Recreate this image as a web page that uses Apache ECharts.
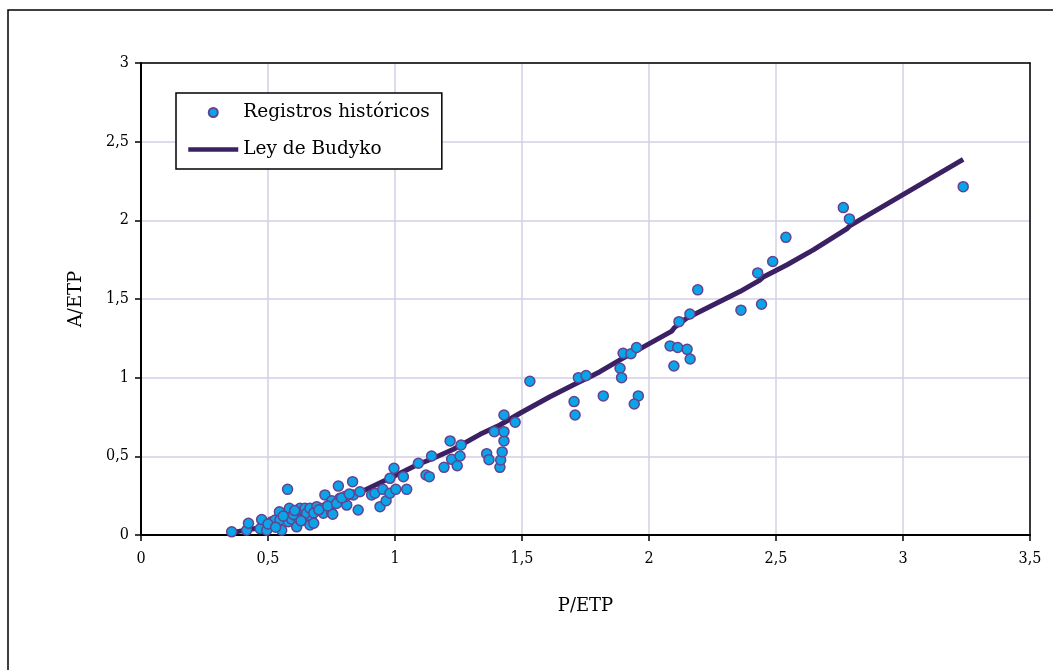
<!DOCTYPE html>
<html>
<head>
<meta charset="utf-8">
<script src="https://cdn.jsdelivr.net/npm/echarts@6/dist/echarts.min.js"></script>
<style>
  html, body { margin: 0; padding: 0; background: #fff; }
  #chart { width: 1053px; height: 670px; }
</style>
</head>
<body>
<div id="chart"></div>
<script>
// registros historicos (P/ETP , A/ETP)
const histP = [0.357, 0.416, 0.423, 0.469, 0.475, 0.495, 0.515, 0.528, 0.545, 0.547, 0.554, 0.577, 0.584, 0.58, 0.593,
  0.613, 0.613, 0.626, 0.639, 0.646, 0.652, 0.665, 0.672, 0.665, 0.692, 0.718, 0.724, 0.718, 0.751, 0.755,
  0.751, 0.777, 0.783, 0.81, 0.803, 0.833, 0.836, 0.855, 0.862, 0.6, 0.5, 0.53, 0.56, 0.605, 0.68,
  0.7, 0.735, 0.77, 0.79, 0.82, 0.68, 0.63,
  0.908, 0.921, 0.941, 0.952, 0.965, 0.98, 0.98, 0.996, 1.003, 1.033, 1.046, 1.092, 1.122, 1.135, 1.144,
  1.193, 1.217, 1.223, 1.245, 1.256, 1.26, 1.361, 1.37, 1.391, 1.413, 1.416, 1.422, 1.429, 1.429, 1.429,
  1.473, 1.531,
  1.705, 1.709, 1.722, 1.752, 1.82, 1.886, 1.892, 1.898, 1.929, 1.951, 1.958, 1.942, 2.083, 2.113, 2.15,
  2.162, 2.098, 2.118, 2.161, 2.192, 2.362, 2.443, 2.428, 2.487, 2.539, 2.765, 2.789, 3.237]
const histA = [0.02, 0.03, 0.075, 0.04, 0.098, 0.03, 0.085, 0.095, 0.148, 0.095, 0.03, 0.29, 0.17, 0.085, 0.1,
  0.052, 0.116, 0.17, 0.105, 0.17, 0.138, 0.17, 0.092, 0.064, 0.18, 0.17, 0.255, 0.138, 0.14, 0.132,
  0.218, 0.311, 0.233, 0.19, 0.244, 0.339, 0.254, 0.159, 0.275, 0.13, 0.07, 0.05, 0.12, 0.155, 0.14,
  0.16, 0.185, 0.2, 0.235, 0.26, 0.075, 0.09,
  0.254, 0.265, 0.18, 0.29, 0.218, 0.36, 0.265, 0.424, 0.29, 0.37, 0.29, 0.456, 0.381, 0.371, 0.502,
  0.43, 0.598, 0.481, 0.44, 0.502, 0.572, 0.517, 0.479, 0.657, 0.43, 0.477, 0.528, 0.598, 0.657, 0.763,
  0.717, 0.977,
  0.848, 0.763, 1.0, 1.013, 0.884, 1.06, 1.0, 1.155, 1.152, 1.192, 0.884, 0.833, 1.202, 1.192, 1.18,
  1.119, 1.074, 1.356, 1.405, 1.558, 1.429, 1.467, 1.666, 1.738, 1.892, 2.081, 2.009, 2.214]

// ley de Budyko
const budykoP = [0.357, 0.455, 0.55, 0.65, 0.75, 0.862, 0.882, 1.02, 1.085, 1.151, 1.23, 1.335, 1.413, 1.492,
  1.61, 1.715, 1.768, 1.807, 1.886, 2.09, 2.10, 2.148, 2.201, 2.358, 2.435, 2.45, 2.542, 2.647, 2.78, 2.79, 3.237]
const budykoA = [0.015, 0.043, 0.085, 0.135, 0.19, 0.275, 0.286, 0.392, 0.445, 0.488, 0.545, 0.64, 0.699, 0.774,
  0.879, 0.964, 1.006, 1.038, 1.113, 1.296, 1.318, 1.378, 1.42, 1.547, 1.618, 1.64, 1.716, 1.812, 1.947, 1.965, 2.388]

const xMax = 3.5
const yMax = 3

let myChart = echarts.init(document.getElementById('chart'))

let histData = []
for (let i = 0; i < histP.length; ++i) {
  histData.push([histP[i], histA[i]])
}
let lineData = []
for (let i = 0; i < budykoP.length; ++i) {
  lineData.push([budykoP[i], budykoA[i]])
}

const tickFont = '"DejaVu Serif Condensed", "Liberation Serif", serif'
const textFont = '"DejaVu Serif", serif'
const comma = function (v) { return String(v).replace('.', ',') }

// ejes auxiliares solo para cerrar el marco (arriba / derecha)
const frameAxis = {
  type: 'value',
  min: 0,
  interval: 0.5,
  axisLine: { show: true, onZero: false, lineStyle: { color: '#000', width: 1.5 } },
  axisTick: { show: false },
  axisLabel: { show: false },
  splitLine: { show: false }
}

let options = {
  animation: false,
  backgroundColor: '#fff',
  graphic: [{
    type: 'rect',
    shape: { x: 8, y: 10, width: 1100, height: 700 },
    style: { fill: 'none', stroke: '#000', lineWidth: 1.5 },
    silent: true
  }],
  grid: {
    left: 141,
    right: 23,
    top: 63,
    bottom: 135
  },
  legend: {
    orient: 'vertical',
    left: 176,
    top: 93,
    padding: [10, 12, 10, 10],
    itemGap: 18,
    itemWidth: 50,
    itemHeight: 9,
    borderColor: '#000',
    borderWidth: 1.5,
    backgroundColor: '#fff',
    textStyle: {
      fontFamily: textFont,
      fontSize: 18.5,
      color: '#000'
    },
    data: [
      { name: 'Registros históricos' },
      { name: 'Ley de Budyko', itemStyle: { opacity: 0 }, lineStyle: { width: 4.5, color: '#3b2063' } }
    ]
  },
  xAxis: [{
    type: 'value',
    min: 0,
    max: xMax,
    interval: 0.5,
    name: 'P/ETP',
    nameLocation: 'middle',
    nameGap: 62,
    nameTextStyle: { fontFamily: textFont, fontSize: 18, color: '#000' },
    axisLine: { show: true, onZero: false, lineStyle: { color: '#000', width: 2 } },
    axisTick: { show: true, length: 6, lineStyle: { color: '#000', width: 1.5 } },
    axisLabel: { margin: 16, fontFamily: tickFont, fontSize: 16, color: '#000', formatter: comma },
    splitLine: { show: true, lineStyle: { color: '#d6cfe6', width: 1.5 } }
  }, Object.assign({ position: 'top', max: xMax }, frameAxis)],
  yAxis: [{
    type: 'value',
    min: 0,
    max: yMax,
    interval: 0.5,
    name: 'A/ETP',
    nameLocation: 'middle',
    nameGap: 56,
    nameTextStyle: { fontFamily: textFont, fontSize: 18, color: '#000' },
    axisLine: { show: true, onZero: false, lineStyle: { color: '#000', width: 2 } },
    axisTick: { show: true, length: 6, lineStyle: { color: '#000', width: 1.5 } },
    axisLabel: { margin: 12, fontFamily: tickFont, fontSize: 16, color: '#000', formatter: comma },
    splitLine: { show: true, lineStyle: { color: '#d6cfe6', width: 1.5 } }
  }, Object.assign({ position: 'right', max: yMax }, frameAxis)],
  series: [
    {
      name: 'Ley de Budyko',
      type: 'line',
      data: lineData,
      showSymbol: false,
      symbol: 'none',
      z: 2,
      lineStyle: { color: '#3b2063', width: 5 },
      itemStyle: { color: '#3b2063' }
    },
    {
      name: 'Registros históricos',
      type: 'scatter',
      data: histData,
      symbol: 'circle',
      symbolSize: 10,
      z: 3,
      itemStyle: {
        color: '#0aa5e8',
        borderColor: '#634290',
        borderWidth: 1.5,
        opacity: 1
      }
    }
  ]
}

myChart.setOption(options)
</script>
</body>
</html>
